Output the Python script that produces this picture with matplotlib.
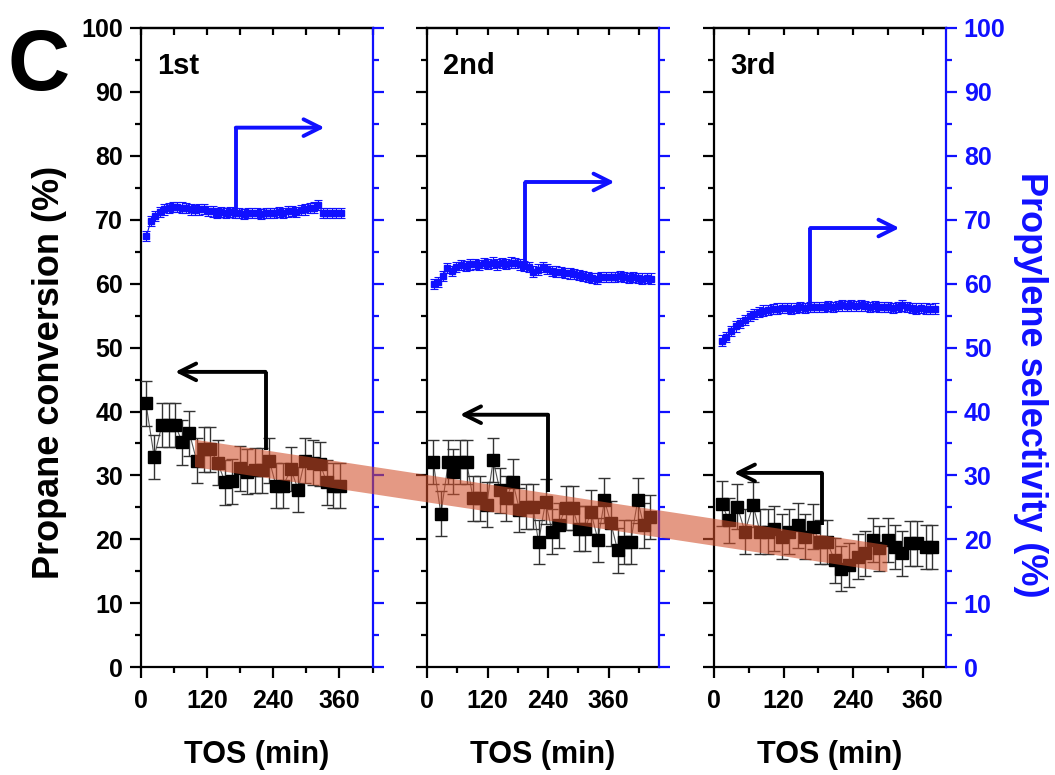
import numpy as np
import matplotlib
matplotlib.use('Agg')
import matplotlib.pyplot as plt
from matplotlib.patches import Polygon
from matplotlib.ticker import MultipleLocator

plt.rcParams['font.family'] = ['Liberation Sans', 'DejaVu Sans']
plt.rcParams['font.weight'] = 'bold'
plt.rcParams['axes.linewidth'] = 1.6

# ---- data ----
# propane conversion (%), black squares
t_c1 = [9, 24, 38, 50, 62, 75, 88, 101, 114, 126, 139, 153, 166, 180, 193, 206, 220, 233, 245, 258,
        272, 285, 297, 312, 325, 337, 349, 361]
conv1 = [41.3, 32.9, 37.9, 37.9, 37.9, 35.2, 36.6, 32.3, 34.1, 34.1, 32.0, 28.9, 29.1, 31.1, 30.6, 30.8,
         30.8, 32.3, 28.4, 28.4, 31.0, 27.8, 32.3, 32.0, 31.8, 28.9, 28.4, 28.4]

t_c2 = [12, 27, 42, 52, 65, 78, 91, 104, 118, 131, 144, 157, 170, 183, 197, 210, 221, 235, 248, 261,
        275, 289, 301, 314, 325, 339, 352, 365, 378, 391, 404, 418, 430, 442]
conv2 = [32.1, 24.0, 32.1, 30.6, 32.1, 32.1, 26.4, 26.4, 25.4, 32.4, 27.7, 26.4, 29.0, 24.6, 25.1, 25.1,
         19.6, 25.9, 21.2, 22.2, 24.9, 24.9, 21.7, 21.7, 24.3, 19.9, 26.1, 22.5, 18.3, 19.6, 19.6, 26.1,
         22.2, 23.5]

t_c3 = [13, 25, 40, 53, 67, 79, 93, 104, 117, 130, 144, 156, 170, 182, 195, 208, 219, 233, 248, 260,
        274, 285, 300, 312, 325, 339, 351, 366, 377]
conv3 = [25.6, 23.0, 25.1, 21.2, 25.4, 21.2, 21.2, 21.7, 20.4, 21.2, 22.2, 20.4, 22.0, 19.6, 19.6, 16.7,
         15.4, 16.0, 17.3, 17.8, 19.9, 18.6, 19.9, 18.8, 17.8, 19.4, 19.4, 18.8, 18.8]

# propylene selectivity (%), blue squares
t_s1 = [10, 18, 26, 34, 42, 50, 58, 66, 74, 82, 90, 98, 106, 114, 122, 130, 138, 146, 154, 162, 170,
        178, 186, 194, 202, 210, 218, 226, 234, 242, 250, 258, 266, 274, 282, 290, 298, 306, 314, 322,
        330, 338, 346, 354, 362]
sel1 = [67.5, 69.8, 70.6, 71.2, 71.6, 71.8, 72.0, 72.0, 71.9, 71.8, 71.6, 71.5, 71.6, 71.7, 71.4, 71.3,
        71.1, 71.2, 71.0, 71.2, 71.0, 71.1, 70.9, 71.0, 71.1, 71.0, 70.9, 71.1, 71.0, 71.0, 71.2, 71.1,
        71.3, 71.4, 71.2, 71.5, 71.6, 71.8, 71.9, 72.3, 71.1, 71.0, 71.0, 71.1, 71.0]

t_s2 = [13, 22, 31, 40, 49, 58, 67, 76, 85, 94, 103, 112, 121, 130, 139, 148, 157, 166, 175, 184, 193,
        202, 211, 220, 229, 238, 247, 256, 265, 274, 283, 292, 301, 310, 319, 328, 337, 346, 355, 364,
        373, 382, 391, 400, 409, 418, 427, 436, 445]
sel2 = [59.9, 60.2, 61.2, 62.5, 62.0, 62.6, 62.9, 62.8, 63.0, 63.1, 62.9, 63.2, 63.1, 63.3, 63.0, 63.2,
        63.1, 63.3, 63.2, 63.0, 62.8, 62.6, 61.9, 62.2, 62.6, 62.3, 62.0, 61.9, 61.8, 61.7, 61.6, 61.5,
        61.3, 61.2, 61.1, 60.9, 60.8, 61.0, 61.1, 61.0, 61.1, 61.2, 61.0, 60.9, 61.0, 60.9, 60.8, 60.9,
        60.8]

t_s3 = [13, 21, 29, 37, 45, 53, 61, 69, 77, 85, 93, 101, 109, 117, 125, 133, 141, 149, 157, 165, 173,
        181, 189, 197, 205, 213, 221, 229, 237, 245, 253, 261, 269, 277, 285, 293, 301, 309, 317, 325,
        333, 341, 349, 357, 365, 373, 381]
sel3 = [51.1, 51.6, 52.6, 53.3, 53.9, 54.3, 54.9, 55.3, 55.6, 55.8, 55.9, 56.0, 56.1, 56.2, 56.2, 56.1,
        56.2, 56.3, 56.2, 56.3, 56.4, 56.3, 56.4, 56.5, 56.4, 56.5, 56.6, 56.5, 56.6, 56.5, 56.6, 56.5,
        56.4, 56.5, 56.4, 56.3, 56.4, 56.2, 56.3, 56.6, 56.3, 56.2, 56.1, 56.2, 56.1, 56.0, 56.1]

conv_err = 3.5
sel_err = 0.8

run_names = ['1st', '2nd', '3rd']
x_max = [420, 460, 400]

# arrows: (x of vertical, y bottom, y top, x of tip)
conv_arrows = [(226, 34, 46.2, 62), (240, 27.4, 39.5, 65), (186, 22.2, 30.4, 34)]
sel_arrows = [(172, 71.5, 84.4, 333), (195, 63.0, 75.9, 372), (166, 56.5, 68.7, 320)]

# trend band: start in 1st run, end in 3rd run (x, y top, y bottom)
band_start = (98, 35.6, 31.3)
band_end = (299, 19.1, 14.9)

runs = [(t_c1, conv1, t_s1, sel1), (t_c2, conv2, t_s2, sel2), (t_c3, conv3, t_s3, sel3)]

blue = '#1010ff'
fig = plt.figure(figsize=(10.55, 7.75), dpi=100)
lefts = [0.1336, 0.405, 0.677]
bottom, width, height = 0.139, 0.2195, 0.825
axes = []

for i, (tc, cv, ts, sv) in enumerate(runs):
    ax = fig.add_axes([lefts[i], bottom, width, height])
    ax2 = ax.twinx()
    axes.append(ax)

    ax.errorbar(tc, cv, yerr=conv_err, fmt='s', color='black', ms=9, mec='black',
                ecolor='#333333', elinewidth=1.0, capsize=4.5, capthick=1.0, zorder=3)
    ax.plot(tc, cv, color='#555555', lw=0.8, zorder=2)
    ax2.errorbar(ts, sv, yerr=sel_err, fmt='s', color=blue, ms=4.5, ecolor=blue,
                 elinewidth=0.8, capsize=3, capthick=0.8, zorder=3)
    ax2.plot(ts, sv, color=blue, lw=0.8)

    ax.set_xlim(0, x_max[i])
    ax.set_ylim(0, 100)
    ax2.set_ylim(0, 100)
    ax.xaxis.set_minor_locator(MultipleLocator(60))
    ax.set_xticks([0, 120, 240, 360])
    for a in (ax, ax2):
        a.yaxis.set_major_locator(MultipleLocator(10))
        a.yaxis.set_minor_locator(MultipleLocator(5))

    ax.tick_params(axis='both', which='major', direction='out', length=8, width=1.6,
                   labelsize=18, pad=5)
    ax.tick_params(axis='both', which='minor', direction='out', length=4.5, width=1.6)
    ax.tick_params(axis='x', which='major', pad=8)
    ax.tick_params(axis='y', labelleft=(i == 0))
    ax2.tick_params(axis='y', which='major', direction='out', length=8, width=1.6,
                    colors=blue, labelsize=18, pad=5, labelright=(i == 2))
    ax2.tick_params(axis='y', which='minor', direction='out', length=4.5, width=1.6, colors=blue)
    ax2.spines['right'].set_color(blue)
    ax.spines['right'].set_visible(False)
    for s in ('left', 'top', 'bottom'):
        ax2.spines[s].set_visible(False)

    top = ax.secondary_xaxis('top')
    top.set_xticks(np.arange(0, x_max[i] + 1, 60))
    top.tick_params(direction='in', length=5, width=1.6, labeltop=False)

    ax.text(0.07, 0.94, run_names[i], transform=ax.transAxes, fontsize=21,
            fontweight='bold', ha='left', va='center')

    xv, yb, yt, xt = conv_arrows[i]
    ax.plot([xv, xv], [yb, yt], color='black', lw=2.8, solid_capstyle='butt', zorder=4)
    ax.annotate('', xy=(xt, yt), xytext=(xv, yt),
                arrowprops=dict(arrowstyle='->', lw=2.8, color='black',
                                shrinkA=0, shrinkB=0, mutation_scale=30), zorder=4)
    xv, yb, yt, xt = sel_arrows[i]
    ax2.plot([xv, xv], [yb, yt], color=blue, lw=2.8, solid_capstyle='butt', zorder=4)
    ax2.annotate('', xy=(xt, yt), xytext=(xv, yt),
                 arrowprops=dict(arrowstyle='->', lw=2.8, color=blue,
                                 shrinkA=0, shrinkB=0, mutation_scale=30), zorder=4)

    fig.text(lefts[i] + width / 2, 0.026, 'TOS (min)', fontsize=22, fontweight='bold',
             ha='center', va='center')

# translucent trend band across the three runs
to_fig = fig.transFigure.inverted()
p1 = to_fig.transform(axes[0].transData.transform([(band_start[0], band_start[1]),
                                                   (band_start[0], band_start[2])]))
p3 = to_fig.transform(axes[2].transData.transform([(band_end[0], band_end[1]),
                                                   (band_end[0], band_end[2])]))
band = Polygon([p1[0], p3[0], p3[1], p1[1]], closed=True, transform=fig.transFigure,
               facecolor=(0.82, 0.31, 0.17), alpha=0.58, edgecolor='none', zorder=5)
fig.patches.append(band)

fig.text(0.047, 0.52, 'Propane conversion (%)', rotation=90, fontsize=26,
         fontweight='bold', ha='center', va='center')
fig.text(0.977, 0.503, 'Propylene selectivity (%)', rotation=270, fontsize=26,
         fontweight='bold', ha='center', va='center', color=blue)
fig.text(0.037, 0.912, 'C', fontsize=62, fontweight='bold', ha='center', va='center')

fig.savefig('out.png', dpi=100)
